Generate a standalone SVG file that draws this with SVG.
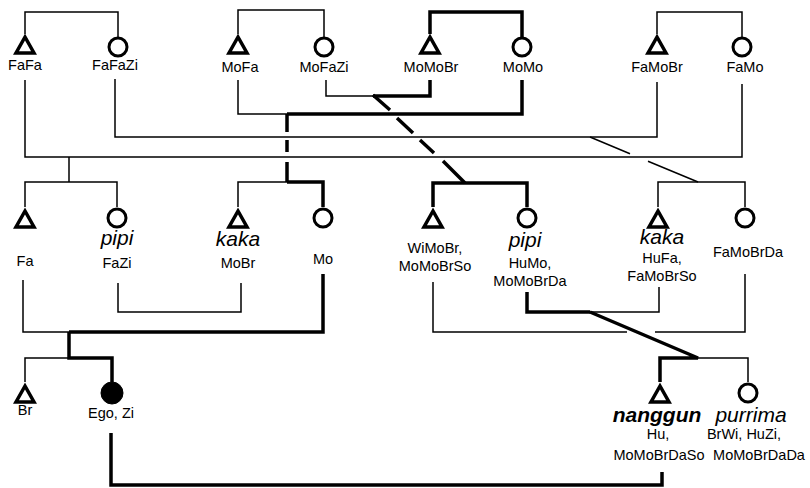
<svg xmlns="http://www.w3.org/2000/svg" width="810" height="488" viewBox="0 0 810 488">
<style>
.thin{fill:none;stroke:#000;stroke-width:1.5}
.thick{fill:none;stroke:#000;stroke-width:3.5}
.tri{fill:#fff;stroke:#000;stroke-width:3.5;stroke-linejoin:miter}
.cir{fill:#fff;stroke:#000;stroke-width:3}
.ego{fill:#000;stroke:#000;stroke-width:1}
text{font-family:"Liberation Sans",Arial,sans-serif;font-size:14.5px;text-anchor:middle;fill:#000}
.kin{font-size:21px;font-style:italic}
.kb{font-size:21px;font-style:italic;font-weight:bold}
</style>
<rect width="810" height="488" fill="#fff"/>
<g id="connectors">
<path class="thin" d="M25,34V12H118V37"/>
<path class="thin" d="M238,34V10H324V37"/>
<path class="thick" d="M430,34V12H522V37"/>
<path class="thin" d="M657,34V12H742V37"/>
<path class="thin" d="M25,80V157H742V84"/>
<path class="thin" d="M115,79V137H657V82"/>
<path class="thin" d="M238,80V114H287"/>
<path class="thick" d="M287,114H522V80"/>
<path class="thin" d="M326,80V96H373"/>
<path class="thick" d="M373,96H430V80"/>
<path class="thick" d="M373,95L390,110M397,118L413,133M420,140L434,153M443,161L465,183"/>
<path class="thick" d="M287,114V132M287,140V152M287,162V182"/>
<path class="thick" d="M287,182H323V207"/>
<path class="thin" d="M238,207V182H287"/>
<path class="thin" d="M590,137L630,153.7M648,161.2L698,182"/>
<path class="thin" d="M658,207V182H745V207"/>
<path class="thick" d="M433,207V183H527V207"/>
<path class="thin" d="M69,157V182M25,207V182H117V207"/>
<path class="thin" d="M23,280V332H69"/>
<path class="thick" d="M69,332H323V274"/>
<path class="thick" d="M69,332V358H112V382"/>
<path class="thin" d="M69,358H25V382"/>
<path class="thin" d="M118,283V312H241V283"/>
<path class="thin" d="M433,282V332H627M655,332H745V274"/>
<path class="thick" d="M527,292V312H590"/>
<path class="thin" d="M590,312H659V287"/>
<path class="thick" d="M590,312L698,358H660V382"/>
<path class="thin" d="M698,358H748V382"/>
<path class="thick" d="M111,433V485H662V472"/>
</g>
<g id="FaFa"><polygon class="tri" points="25,37 16,53 34,53"/><text x="25" y="70">FaFa</text></g>
<g id="FaFaZi"><circle class="cir" cx="118" cy="47" r="9"/><text x="115" y="70">FaFaZi</text></g>
<g id="MoFa"><polygon class="tri" points="238,37 229,53 247,53"/><text x="240" y="72">MoFa</text></g>
<g id="MoFaZi"><circle class="cir" cx="324" cy="47" r="9"/><text x="324" y="72">MoFaZi</text></g>
<g id="MoMoBr"><polygon class="tri" points="430,37 421,53 439,53"/><text x="431" y="72">MoMoBr</text></g>
<g id="MoMo"><circle class="cir" cx="522" cy="47" r="9"/><text x="523" y="72">MoMo</text></g>
<g id="FaMoBr"><polygon class="tri" points="657,37 648,53 666,53"/><text x="657" y="72">FaMoBr</text></g>
<g id="FaMo"><circle class="cir" cx="742" cy="47" r="9"/><text x="745" y="72">FaMo</text></g>
<g id="Fa"><polygon class="tri" points="25,211 16,227 34,227"/><text x="25" y="266">Fa</text></g>
<g id="FaZi"><circle class="cir" cx="117" cy="218" r="9"/><text class="kin" x="117" y="245">pipi</text><text x="117" y="268">FaZi</text></g>
<g id="MoBr"><polygon class="tri" points="238,211 229,227 247,227"/><text class="kin" x="238" y="246">kaka</text><text x="238" y="268">MoBr</text></g>
<g id="Mo"><circle class="cir" cx="323" cy="218" r="9"/><text x="323" y="264">Mo</text></g>
<g id="WiMoBr"><polygon class="tri" points="433,211 424,227 442,227"/><text x="435" y="253">WiMoBr,</text><text x="435" y="271">MoMoBrSo</text></g>
<g id="HuMo"><circle class="cir" cx="527" cy="218" r="9"/><text class="kin" x="525" y="247">pipi</text><text x="530" y="268">HuMo,</text><text x="530" y="286">MoMoBrDa</text></g>
<g id="HuFa"><polygon class="tri" points="658,211 649,227 667,227"/><text class="kin" x="662" y="244">kaka</text><text x="662" y="263">HuFa,</text><text x="662" y="281">FaMoBrSo</text></g>
<g id="FaMoBrDa"><circle class="cir" cx="745" cy="218" r="9"/><text x="748" y="257">FaMoBrDa</text></g>
<g id="Br"><polygon class="tri" points="25,386 16,402 34,402"/><text x="25" y="415">Br</text></g>
<g id="Ego"><circle class="ego" cx="112" cy="393" r="11"/><text x="111" y="418">Ego, Zi</text></g>
<g id="Hu"><polygon class="tri" points="660,386 651,402 669,402"/><text class="kb" x="657" y="422">nanggun</text><text x="658" y="439">Hu,</text><text x="659" y="460">MoMoBrDaSo</text></g>
<g id="HuZi"><circle class="cir" cx="748" cy="393" r="9"/><text class="kin" x="751" y="422">purrima</text><text x="744" y="439">BrWi, HuZi,</text><text x="759" y="460">MoMoBrDaDa</text></g>
</svg>
